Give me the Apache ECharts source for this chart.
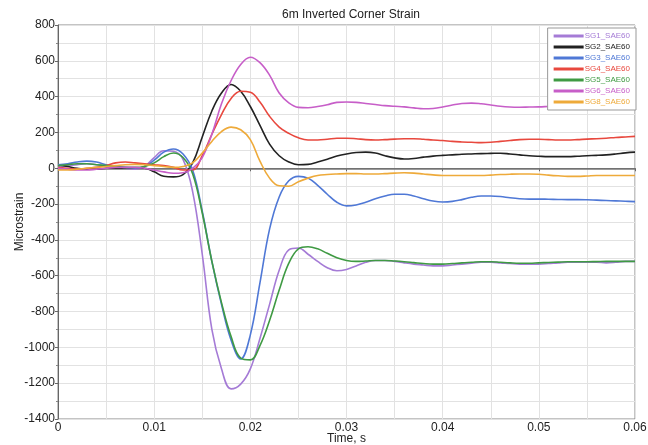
<!DOCTYPE html>
<html>
<head>
<meta charset="utf-8">
<script src="https://cdn.jsdelivr.net/npm/echarts@6/dist/echarts.min.js"></script>
<style>
  html, body { margin: 0; padding: 0; background: #fff; }
  #chart { width: 648px; height: 445px; }
</style>
</head>
<body>
<div id="chart"></div>
<script>
// time base, s (step 1 ms)
const time = []
for (let i = 0; i <= 60; i++) time.push(i / 1000)

const seriesNames = ['SG1_SAE60', 'SG2_SAE60', 'SG3_SAE60', 'SG4_SAE60', 'SG5_SAE60', 'SG6_SAE60', 'SG8_SAE60']
const seriesColors = ['#a57bd6', '#222222', '#4f78d6', '#e8483e', '#3f9a43', '#c75ec8', '#eeaa3a']

// microstrain readings, one per time step
const sg1 = [10, 15, 20, 25, 20, 10, 5, 0, -5, 10, 60, 98, 95, 50, -130, -480, -900, -1120, -1232, -1205, -1120, -950, -760, -570, -455, -445, -480, -520, -555, -572, -565, -545, -525, -515, -515, -520, -528, -535, -540, -545, -545, -540, -535, -530, -525, -525, -528, -532, -535, -535, -535, -532, -528, -525, -525, -525, -525, -528, -525, -520, -520]
const sg2 = [20, 10, 0, -5, -5, 0, 0, 0, 0, 0, -20, -45, -48, -35, 30, 175, 320, 420, 468, 430, 345, 240, 135, 70, 35, 20, 22, 35, 50, 68, 80, 88, 90, 85, 70, 58, 52, 55, 62, 68, 72, 75, 78, 80, 82, 83, 84, 80, 75, 70, 67, 65, 65, 65, 67, 70, 72, 75, 80, 86, 90]
const sg3 = [20, 25, 35, 40, 35, 20, 10, 5, 0, 10, 45, 90, 108, 80, -10, -240, -520, -760, -960, -1065, -930, -640, -340, -160, -70, -45, -55, -95, -145, -190, -210, -205, -190, -170, -155, -145, -145, -155, -170, -183, -188, -185, -175, -162, -155, -155, -158, -165, -170, -172, -172, -173, -174, -175, -175, -176, -178, -180, -182, -184, -186]
const sg4 = [5, 0, -5, 0, 5, 15, 30, 35, 30, 25, 20, 15, 5, -10, -10, 70, 190, 300, 390, 430, 425, 370, 290, 230, 195, 170, 158, 158, 162, 168, 168, 165, 160, 158, 160, 163, 165, 165, 162, 158, 155, 150, 147, 145, 143, 145, 150, 155, 160, 162, 162, 160, 158, 158, 160, 163, 165, 168, 172, 175, 178]
const sg5 = [15, 20, 25, 25, 20, 15, 10, 5, 5, 10, 30, 65, 85, 60, -30, -250, -520, -750, -940, -1060, -1070, -990, -850, -680, -530, -450, -438, -450, -475, -500, -515, -520, -518, -515, -515, -518, -522, -527, -532, -535, -535, -532, -528, -525, -522, -522, -525, -528, -530, -530, -528, -526, -524, -522, -522, -522, -521, -520, -520, -520, -520]
const sg6 = [0, -5, -10, -10, -5, 0, 5, 5, 5, 0, -10, -20, -28, -25, 0, 60, 190, 360, 490, 580, 620, 590, 520, 420, 365, 340, 338, 345, 355, 368, 370, 368, 362, 356, 350, 346, 343, 337, 332, 334, 342, 353, 362, 364, 360, 353, 346, 342, 341, 342, 343, 345, 347, 348, 348, 348, 349, 350, 350, 351, 352]
const sg8 = [-10, -10, -5, 0, 5, 10, 15, 20, 22, 20, 15, 10, 5, 10, 30, 85, 150, 205, 230, 215, 160, 40, -55, -98, -100, -75, -55, -40, -35, -32, -30, -30, -32, -32, -30, -27, -25, -27, -32, -37, -40, -40, -40, -40, -40, -38, -35, -33, -32, -32, -33, -38, -42, -45, -45, -43, -40, -40, -40, -40, -40]

const allValues = [sg1, sg2, sg3, sg4, sg5, sg6, sg8]

const chart = echarts.init(document.getElementById('chart'))

const series = seriesNames.map((name, k) => {
  const s = {
    name: name,
    type: 'line',
    data: time.map((t, i) => [t, allValues[k][i]]),
    showSymbol: false,
    smooth: 0.4,
    lineStyle: { width: 1.6, color: seriesColors[k] },
    itemStyle: { color: seriesColors[k] },
    animation: false,
    z: 3
  }
  if (k === 0) {
    s.markLine = {
      silent: true,
      symbol: 'none',
      label: { show: false },
      lineStyle: { color: '#777', width: 1.5, type: 'solid' },
      data: [{ yAxis: 0 }],
      z: 1
    }
  }
  return s
})

const gridColor = '#e2e2e2'

const option = {
  backgroundColor: '#fff',
  title: {
    text: '6m Inverted Corner Strain',
    left: 346,
    top: 4,
    textAlign: 'center',
    textStyle: { fontSize: 12, fontWeight: 'normal', color: '#222', fontFamily: 'Liberation Sans' }
  },
  legend: {
    orient: 'vertical',
    right: 12,
    top: 28,
    itemWidth: 30,
    itemHeight: 3,
    itemGap: 3,
    icon: 'rect',
    padding: [4, 6, 4, 6],
    borderColor: '#999',
    borderWidth: 1,
    backgroundColor: '#fff',
    data: seriesNames.map((n, k) => ({ name: n, textStyle: { color: seriesColors[k] } })),
    textStyle: { fontSize: 8, fontFamily: 'Liberation Sans', padding: [0, 0, 0, -4] }
  },
  grid: {
    left: 58,
    right: 13,
    top: 25,
    bottom: 26,
    containLabel: false,
    outerBoundsMode: 'none',
    show: true,
    borderColor: '#888',
    borderWidth: 1
  },
  xAxis: {
    type: 'value',
    min: 0,
    max: 0.06,
    interval: 0.01,
    name: 'Time, s',
    nameLocation: 'middle',
    nameGap: 14,
    nameMoveOverlap: false,
    nameTextStyle: { fontSize: 12, color: '#222', fontFamily: 'Liberation Sans' },
    axisLine: { lineStyle: { color: '#666' } },
    axisTick: { show: true, length: 3, lineStyle: { color: '#666' } },
    axisLabel: {
      fontSize: 12, color: '#222', margin: 3, fontFamily: 'Liberation Sans',
      formatter: v => String(+v.toFixed(3))
    },
    splitLine: { show: true, lineStyle: { color: gridColor } },
    minorTick: { show: false, splitNumber: 2 },
    minorSplitLine: { show: true, lineStyle: { color: gridColor } }
  },
  yAxis: {
    type: 'value',
    min: -1400,
    max: 800,
    interval: 200,
    name: 'Microstrain',
    nameLocation: 'middle',
    nameGap: 32,
    nameMoveOverlap: false,
    nameTextStyle: { fontSize: 12, color: '#222', fontFamily: 'Liberation Sans' },
    axisLine: { show: true, lineStyle: { color: '#666' } },
    axisTick: { show: true, length: 3, lineStyle: { color: '#666' } },
    axisLabel: {
      fontSize: 12, color: '#222', margin: 3, fontFamily: 'Liberation Sans',
      formatter: v => String(v)
    },
    splitLine: { show: true, lineStyle: { color: gridColor } },
    minorTick: { show: true, splitNumber: 2, length: 2, lineStyle: { color: '#888' } },
    minorSplitLine: { show: true, lineStyle: { color: gridColor } }
  },
  series: series
}

chart.setOption(option)
</script>
</body>
</html>
